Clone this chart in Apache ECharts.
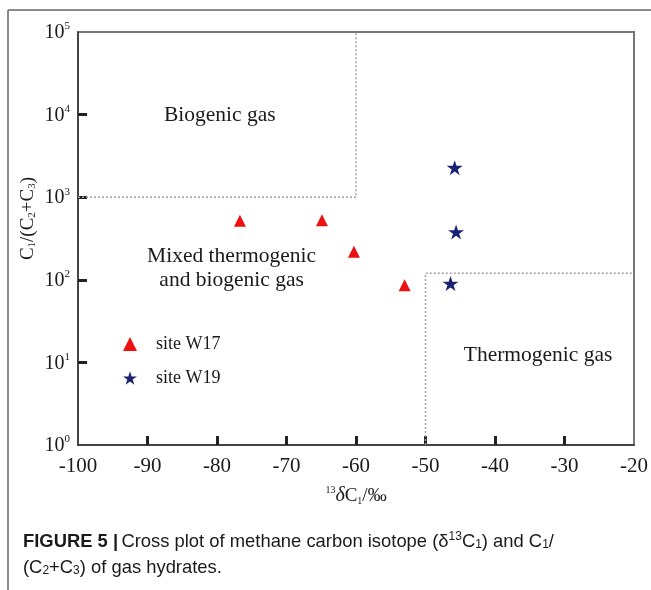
<!DOCTYPE html>
<html>
<head>
<meta charset="utf-8">
<script src="https://cdn.jsdelivr.net/npm/echarts@6/dist/echarts.min.js"></script>
<style>html,body{margin:0;padding:0;background:#fff;}#c{width:651px;height:590px;}</style>
</head>
<body>
<div id="c"></div>
<script>
// ---- data ----
var siteW17 = [[-76.7, 520], [-64.9, 525], [-60.3, 219], [-53.0, 86]];
var siteW19 = [[-45.8, 2280], [-45.6, 380], [-46.4, 90]];
var biogenicBoundary = [[-100, 1000], [-60, 1000], [-60, 100000]];
var thermogenicBoundary = [[-50, 1], [-50, 120], [-20, 120]];
var regionLabels = [
  {name: 'Biogenic gas', value: [-79.6, 9900]},
  {name: 'Mixed thermogenic\nand biogenic gas', value: [-77.9, 139]},
  {name: 'Thermogenic gas', value: [-33.8, 12.3]}
];
var xTicks = [-90, -80, -70, -60, -50, -40, -30];
var yTicks = [10, 100, 1000, 10000];
var legendNames = ['site W17', 'site W19'];

var SERIF = '"Liberation Serif","Times New Roman",serif';
var SANS = '"Liberation Sans",Arial,sans-serif';
var STAR = 'path://M100,0L122.45,69.1L195.1,69.1L136.3,111.8L158.8,180.9L100,138.2L41.2,180.9L63.7,111.8L4.9,69.1L77.55,69.1Z';
var INK = '#1a1a1a';

var chart = echarts.init(document.getElementById('c'), null, {renderer: 'canvas'});
chart.setOption({
  backgroundColor: '#fff',
  animation: false,
  grid: {left: 78, right: 15, top: 32, bottom: 145, show: true, borderColor: '#777', borderWidth: 2},
  xAxis: {
    type: 'value', min: -100, max: -20, interval: 10,
    splitLine: {show: false},
    axisLine: {show: true, onZero: false, lineStyle: {color: '#333', width: 1.5}},
    axisTick: {show: true, inside: true, length: 9, customValues: xTicks, lineStyle: {color: '#222', width: 3}},
    axisLabel: {color: INK, fontFamily: SERIF, fontSize: 21, margin: 11},
    name: '{s|13}{d|δ}{n|C}{b|1}{n|/‰}',
    nameLocation: 'middle', nameGap: 40,
    nameTextStyle: {
      color: INK, fontFamily: SERIF,
      rich: {
        s: {fontSize: 10, fontFamily: SERIF, color: INK, lineHeight: 10, verticalAlign: 'top'},
        d: {fontSize: 20, fontFamily: SERIF, fontStyle: 'italic', color: INK, lineHeight: 21, verticalAlign: 'bottom'},
        n: {fontSize: 19, fontFamily: SERIF, color: INK, lineHeight: 21, verticalAlign: 'bottom'},
        b: {fontSize: 10, fontFamily: SERIF, color: INK, lineHeight: 10, verticalAlign: 'bottom'}
      }
    }
  },
  yAxis: {
    type: 'log', logBase: 10, min: 1, max: 100000,
    splitLine: {show: false}, minorTick: {show: false},
    axisLine: {show: true, lineStyle: {color: '#333', width: 1.5}},
    axisTick: {show: true, inside: true, length: 9, customValues: yTicks, lineStyle: {color: '#222', width: 3}},
    axisLabel: {
      margin: 8,
      formatter: function (v) { return '{b|10}{s|' + Math.round(Math.log10(v)) + '}'; },
      rich: {
        b: {fontSize: 20, fontFamily: SERIF, color: INK, lineHeight: 22, verticalAlign: 'bottom', padding: [4, 0, 0, 0]},
        s: {fontSize: 11, fontFamily: SERIF, color: INK, lineHeight: 11, verticalAlign: 'top'}
      }
    },
    name: '{n|C}{b|1}{n|/(C}{b|2}{n|+C}{b|3}{n|)}',
    nameLocation: 'middle', nameGap: 40, nameRotate: 90, nameMoveOverlap: false,
    nameTextStyle: {
      color: INK, fontFamily: SERIF, padding: [0, 0, 0, 40],
      rich: {
        n: {fontSize: 19, fontFamily: SERIF, color: INK, lineHeight: 22, verticalAlign: 'bottom'},
        b: {fontSize: 11, fontFamily: SERIF, color: INK, lineHeight: 11, verticalAlign: 'bottom'}
      }
    }
  },
  legend: {
    data: [{name: legendNames[0], icon: 'triangle'}, {name: legendNames[1], icon: STAR}],
    orient: 'vertical', left: 118, top: 330, itemWidth: 14, itemHeight: 14, itemGap: 16,
    textStyle: {fontFamily: SERIF, fontSize: 18, color: INK, padding: [0, 0, 0, 14]}
  },
  series: [
    {type: 'line', data: biogenicBoundary, symbol: 'none', silent: true,
     lineStyle: {color: '#a0a0a0', width: 1.5, type: [2, 2]}},
    {type: 'line', data: thermogenicBoundary, symbol: 'none', silent: true,
     lineStyle: {color: '#a0a0a0', width: 1.5, type: [2, 2]}},
    {name: legendNames[0], type: 'scatter', data: siteW17, symbol: 'triangle', symbolSize: 12,
     itemStyle: {color: '#ee1111', opacity: 1}},
    {name: legendNames[1], type: 'scatter', data: siteW19, symbol: STAR, symbolSize: [16, 15],
     itemStyle: {color: '#1b2173', opacity: 1}},
    {type: 'scatter', data: regionLabels, symbolSize: 0, silent: true, itemStyle: {opacity: 1},
     label: {show: true, position: 'inside', formatter: '{b}', fontFamily: SERIF, fontSize: 21.5,
             color: INK, opacity: 1, lineHeight: 24, align: 'center'}}
  ],
  graphic: [
    {type: 'line', shape: {x1: 8, y1: 10, x2: 651, y2: 10}, style: {stroke: '#666', lineWidth: 1.5}, silent: true},
    {type: 'line', shape: {x1: 8, y1: 10, x2: 8, y2: 590}, style: {stroke: '#666', lineWidth: 1.5}, silent: true},
    {type: 'text', left: 23, top: 531, silent: true,
     style: {
       text: '{h|FIGURE 5 |} {n|Cross plot of methane carbon isotope (δ}{p|13}{n|C}{u|1}{n|) and C}{u|1}{n|/}',
       rich: {
         h: {fontFamily: SANS, fontWeight: 'bold', fontSize: 18.4, fill: INK, lineHeight: 20, verticalAlign: 'bottom'},
         n: {fontFamily: SANS, fontSize: 18.4, fill: INK, lineHeight: 20, verticalAlign: 'bottom'},
         p: {fontFamily: SANS, fontSize: 12, fill: INK, lineHeight: 12, verticalAlign: 'top'},
         u: {fontFamily: SANS, fontSize: 12, fill: INK, lineHeight: 12, verticalAlign: 'bottom'}
       }
     }},
    {type: 'text', left: 23, top: 559, silent: true,
     style: {
       text: '{n|(C}{u|2}{n|+C}{u|3}{n|) of gas hydrates.}',
       rich: {
         n: {fontFamily: SANS, fontSize: 18.4, fill: INK, lineHeight: 20, verticalAlign: 'bottom'},
         u: {fontFamily: SANS, fontSize: 12, fill: INK, lineHeight: 12, verticalAlign: 'bottom'}
       }
     }}
  ]
});
</script>
</body>
</html>
